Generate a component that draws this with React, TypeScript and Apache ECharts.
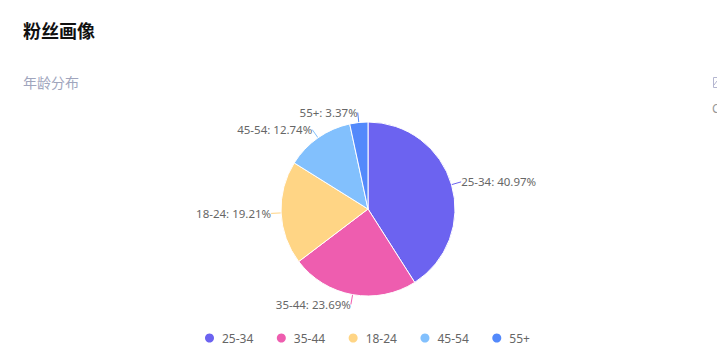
import React, { useEffect, useRef } from "react";
import * as echarts from "echarts";

const categories = ["25-34", "35-44", "18-24", "45-54", "55+"];
const values = [40.97, 23.69, 19.21, 12.74, 3.37];
const colors = ["#6C63F0", "#EE5DAF", "#FFD585", "#82C0FD", "#5389FB"];
const FONT = "'Noto Sans', 'Noto Sans CJK SC', sans-serif";
const CJK = "'Noto Sans CJK SC', sans-serif";

export default function App() {
  const ref = useRef<HTMLDivElement>(null);
  useEffect(() => {
    document.body.style.margin = "0";
    const chart = echarts.init(ref.current!, undefined, { renderer: "svg" });
    chart.setOption({
      animation: false,
      textStyle: { fontFamily: FONT },
      legend: {
        data: categories,
        left: 200,
        top: 327,
        icon: "circle",
        itemWidth: 15,
        itemHeight: 9,
        itemGap: 23.5,
        itemStyle: { borderWidth: 0 },
        textStyle: { fontSize: 12, color: "#666", fontFamily: FONT },
      },
      series: [
        {
          type: "pie",
          center: [368, 209],
          radius: [0, 87],
          startAngle: 90,
          clockwise: true,
          data: categories.map((name, i) => ({
            name,
            value: values[i],
            itemStyle: { color: colors[i] },
          })),
          itemStyle: { borderColor: "#fff", borderWidth: 1 },
          label: {
            formatter: (p: any) => `${p.name}: ${p.value.toFixed(2)}%`,
            fontSize: 11.5,
            color: "#666",
            fontFamily: FONT,
            distanceToLabelLine: 0,
          },
          labelLine: { show: true, length: 10, length2: 0, lineStyle: { width: 1 } },
        },
      ],
      graphic: [
        { type: "text", left: 23, top: 21, style: { text: "粉丝画像", font: `bold 18px ${CJK}`, fill: "#111" } },
        { type: "text", left: 23, top: 75, style: { text: "年龄分布", font: `14px ${CJK}`, fill: "#A0A5BD" } },
        { type: "rect", shape: { x: 713.5, y: 77.5, width: 10, height: 10 }, style: { fill: "#fff", stroke: "#B4B6D0", lineWidth: 1 } },
        { type: "line", shape: { x1: 714, y1: 85, x2: 717, y2: 81 }, style: { stroke: "#B4B6D0", lineWidth: 1 } },
        { type: "text", left: 712, top: 102, style: { text: "C", font: `12px ${FONT}`, fill: "#999" } },
      ],
    });
    return () => chart.dispose();
  }, []);
  return <div ref={ref} style={{ width: 717, height: 356 }} />;
}
